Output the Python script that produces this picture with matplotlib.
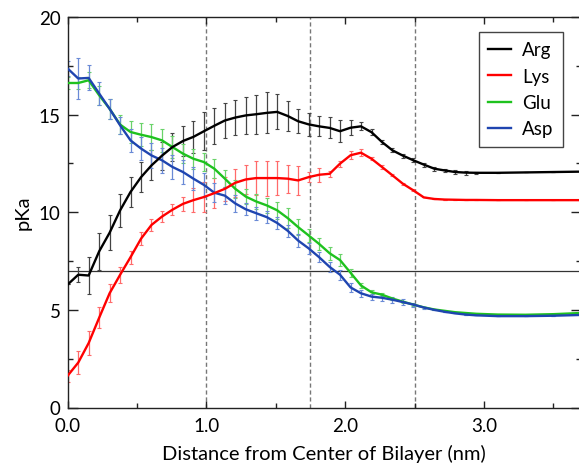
import numpy as np
import matplotlib
matplotlib.use('Agg')
import matplotlib.pyplot as plt
from matplotlib.ticker import MultipleLocator, FormatStrFormatter

plt.rcParams['font.family'] = ['Lato', 'DejaVu Sans']

# distance from bilayer centre (nm)
dist = [0.0, 0.076, 0.151, 0.227, 0.302, 0.378, 0.453, 0.529, 0.604, 0.68,
        0.755, 0.831, 0.906, 0.982, 1.057, 1.133, 1.208, 1.284, 1.359, 1.435,
        1.51, 1.586, 1.661, 1.737, 1.812, 1.888, 1.963, 2.039, 2.114, 2.19,
        2.265, 2.341, 2.416, 2.492, 2.567, 2.643, 2.718, 2.794, 2.869, 2.945,
        3.1, 3.3, 3.5, 3.7]

# pKa profiles
arg = [6.3, 6.8, 6.76, 8.0, 8.95, 10.1, 11.04, 11.8, 12.4, 12.9,
       13.34, 13.65, 13.86, 14.15, 14.43, 14.7, 14.85, 14.96, 15.02, 15.09,
       15.14, 14.93, 14.66, 14.5, 14.4, 14.32, 14.15, 14.33, 14.4, 14.1,
       13.6, 13.17, 12.9, 12.66, 12.44, 12.23, 12.14, 12.06, 12.03, 12.02,
       12.02, 12.04, 12.06, 12.08]
lys = [1.63, 2.3, 3.3, 4.6, 5.85, 6.8, 7.7, 8.65, 9.35, 9.78,
       10.13, 10.43, 10.62, 10.78, 10.98, 11.2, 11.51, 11.68, 11.75, 11.75,
       11.75, 11.72, 11.63, 11.8, 11.92, 11.97, 12.49, 12.92, 13.05, 12.74,
       12.32, 11.89, 11.46, 11.12, 10.76, 10.68, 10.65, 10.64, 10.63, 10.63,
       10.62, 10.62, 10.62, 10.62]
glu = [16.62, 16.62, 16.76, 15.99, 15.3, 14.49, 14.11, 13.97, 13.85, 13.68,
       13.34, 13.0, 12.74, 12.57, 12.23, 11.72, 11.2, 10.8, 10.55, 10.35,
       10.1, 9.7, 9.24, 8.81, 8.38, 7.9, 7.55, 6.9, 6.25, 5.9,
       5.78, 5.58, 5.42, 5.27, 5.13, 5.02, 4.95, 4.88, 4.84, 4.8,
       4.76, 4.75, 4.78, 4.84]
asp = [17.36, 16.85, 16.88, 16.08, 15.3, 14.45, 13.68, 13.26, 12.91, 12.66,
       12.32, 12.06, 11.72, 11.4, 11.0, 10.85, 10.45, 10.15, 9.95, 9.75,
       9.45, 9.05, 8.55, 8.15, 7.7, 7.2, 6.8, 6.15, 5.85, 5.68,
       5.62, 5.52, 5.4, 5.27, 5.12, 5.0, 4.9, 4.82, 4.76, 4.72,
       4.68, 4.68, 4.7, 4.74]

# standard errors
arg_err = [0.0, 0.38, 0.95, 0.94, 0.9, 0.85, 0.75, 0.75, 0.77, 0.72,
           0.7, 0.77, 0.8, 0.96, 0.91, 0.88, 0.9, 0.95, 1.0, 1.05,
           0.9, 0.75, 0.62, 0.58, 0.51, 0.54, 0.56, 0.38, 0.2, 0.15,
           0.12, 0.1, 0.1, 0.1, 0.1, 0.1, 0.1, 0.1, 0.1, 0.05,
           0, 0, 0, 0]
lys_err = [0.3, 0.6, 0.6, 0.55, 0.45, 0.4, 0.33, 0.33, 0.3, 0.3,
           0.28, 0.35, 0.6, 0.75, 0.75, 0.6, 0.73, 0.72, 0.85, 0.9,
           0.85, 0.72, 0.73, 0.26, 0.35, 0.15, 0.15, 0.2, 0.17, 0.08,
           0.08, 0.05, 0.05, 0.05, 0, 0, 0, 0, 0, 0,
           0, 0, 0, 0]
glu_err = [0.3, 0.3, 0.4, 0.5, 0.5, 0.5, 0.55, 0.6, 0.68, 0.6,
           0.55, 0.5, 0.5, 0.47, 0.5, 0.45, 0.45, 0.4, 0.38, 0.4,
           0.43, 0.5, 0.43, 0.35, 0.3, 0.33, 0.3, 0.2, 0.15, 0.1,
           0.08, 0.05, 0.05, 0.05, 0, 0, 0, 0, 0, 0,
           0, 0, 0, 0]
asp_err = [0.4, 1.03, 0.64, 0.6, 0.51, 0.43, 0.6, 0.6, 0.64, 0.64,
           0.6, 0.6, 0.6, 0.6, 0.5, 0.45, 0.43, 0.3, 0.34, 0.3,
           0.3, 0.32, 0.34, 0.3, 0.26, 0.26, 0.25, 0.21, 0.18, 0.15,
           0.15, 0.15, 0.15, 0.1, 0.05, 0, 0, 0, 0, 0,
           0, 0, 0, 0]

series = [
    ('Arg', arg, arg_err, '#000000', '#444444'),
    ('Lys', lys, lys_err, '#ff0000', '#ff6a6a'),
    ('Glu', glu, glu_err, '#1ec21e', '#6ad36a'),
    ('Asp', asp, asp_err, '#1f45b0', '#6a8ad6'),
]

fig = plt.figure(figsize=(5.79, 4.64), dpi=100)
ax = fig.add_axes([67.7 / 579, 55.5 / 464, 513.3 / 579, 390.5 / 464])

# reference lines
for xv in [1.0, 1.75, 2.5]:
    ax.axvline(xv, color='#777777', lw=1.0, ls=(0, (3, 2)), zorder=1)
ax.axhline(7, color='#333333', lw=0.9, zorder=1)

for name, y, e, c, ec in series:
    ax.errorbar(dist, y, yerr=e, fmt='none', ecolor=ec, elinewidth=0.9,
                capsize=1.5, capthick=0.8, zorder=2)

# draw order: Glu under Asp, Arg on top
z = {'Glu': 3, 'Asp': 4, 'Lys': 5, 'Arg': 6}
lines = {}
for name, y, e, c, ec in series:
    lines[name], = ax.plot(dist, y, color=c, lw=1.7, label=name, zorder=z[name])

ax.set_xlim(0, 3.7)
ax.set_ylim(0, 20)
ax.xaxis.set_major_locator(MultipleLocator(1.0))
ax.xaxis.set_minor_locator(MultipleLocator(0.5))
ax.xaxis.set_major_formatter(FormatStrFormatter('%.1f'))
ax.yaxis.set_major_locator(MultipleLocator(5))
ax.yaxis.set_minor_locator(MultipleLocator(2.5))
ax.tick_params(which='both', direction='in', top=True, right=True,
               labelsize=13.5, width=1.0, color='#222222')
ax.tick_params(axis='y', which='major', length=7.5, pad=5)
ax.tick_params(axis='y', which='minor', length=3.6)
ax.tick_params(axis='x', which='major', length=5, pad=7)
ax.tick_params(axis='x', which='minor', length=3.6)
for s in ax.spines.values():
    s.set_linewidth(1.0)
    s.set_color('#222222')

ax.set_xlabel('Distance from Center of Bilayer (nm)', fontsize=14.5, labelpad=7)
ax.set_ylabel('pKa', fontsize=14.5, labelpad=5)

leg = ax.legend(handles=[lines['Arg'], lines['Lys'], lines['Glu'], lines['Asp']],
                loc='upper left', bbox_to_anchor=(479 / 579, 1 - 33 / 464),
                bbox_transform=fig.transFigure, fontsize=13.5, frameon=True,
                fancybox=False, edgecolor='#444444', framealpha=1,
                handlelength=1.2, handletextpad=0.6, labelspacing=0.5,
                borderpad=0.5, borderaxespad=0)
leg.get_frame().set_linewidth(1.0)

fig.savefig('out.png', dpi=100)
